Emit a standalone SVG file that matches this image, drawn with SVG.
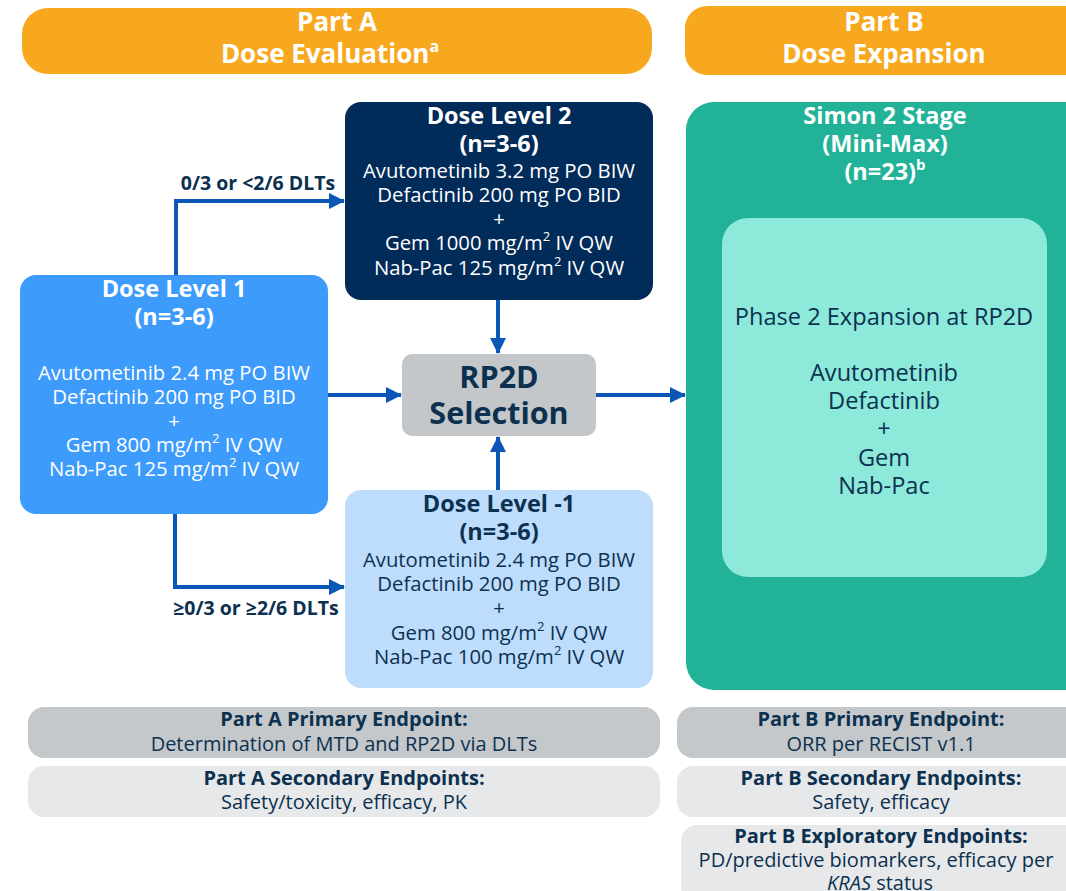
<svg xmlns="http://www.w3.org/2000/svg" width="1066" height="891" viewBox="0 0 1066 891">
<style>
text{font-family:"Open Sans","Noto Sans","Liberation Sans",sans-serif;text-anchor:middle}
.hdr{font-size:26px;font-weight:700;fill:#fff}
.b{font-weight:700}
.w{fill:#fff}
.d{fill:#0c3150}
.t20{font-size:20.3px}
.t22{font-size:23.5px}
.lbl{font-size:19.5px;font-weight:700;fill:#0c3150}
.ep{font-size:20px;fill:#0c3150}
.sup{font-size:13px;baseline-shift:super}
.conn{fill:none;stroke:#0a57b8;stroke-width:4}
</style>
<defs>
<marker id="ah" markerUnits="userSpaceOnUse" markerWidth="16" markerHeight="16" viewBox="0 0 16 16" refX="15" refY="8" orient="auto">
<path d="M0 0 L16 8 L0 16 Z" fill="#0a57b8"/>
</marker>
</defs>

<g id="partA-header">
<rect x="22" y="8" width="630" height="66" rx="26" fill="#f8a81e"/>
<text class="hdr" x="337" y="31">Part A</text>
<text class="hdr" x="330" y="63">Dose Evaluation<tspan font-size="16" baseline-shift="super">a</tspan></text>
</g>

<g id="partB-header">
<rect x="685" y="6" width="420" height="69" rx="22" fill="#f8a81e"/>
<text class="hdr" x="884" y="31">Part B</text>
<text class="hdr" x="884" y="63">Dose Expansion</text>
</g>

<g id="connectors">
<path class="conn" d="M176 276 V201 H344" marker-end="url(#ah)"/>
<path class="conn" d="M498 300 V353" marker-end="url(#ah)"/>
<path class="conn" d="M328 395 H401" marker-end="url(#ah)"/>
<path class="conn" d="M498 490 V437" marker-end="url(#ah)"/>
<path class="conn" d="M596 395 H685" marker-end="url(#ah)"/>
<path class="conn" d="M175 514 V587 H344" marker-end="url(#ah)"/>
<text class="lbl" x="258" y="190">0/3 or &lt;2/6 DLTs</text>
<text class="lbl" x="256" y="615">≥0/3 or ≥2/6 DLTs</text>
</g>

<g id="dose-level-2">
<rect x="345" y="102" width="308" height="198" rx="16" fill="#012b59"/>
<text class="w t22 b" x="499" y="124">Dose Level 2</text>
<text class="w t22 b" x="499" y="152">(n=3-6)</text>
<text class="w t20" x="499" y="178">Avutometinib 3.2 mg PO BIW</text>
<text class="w t20" x="499" y="202">Defactinib 200 mg PO BID</text>
<text class="w t20" x="499" y="226">+</text>
<text class="w t20" x="499" y="250">Gem 1000 mg/m<tspan class="sup">2</tspan> IV QW</text>
<text class="w t20" x="499" y="275">Nab-Pac 125 mg/m<tspan class="sup">2</tspan> IV QW</text>
</g>

<g id="dose-level-1">
<rect x="20" y="275" width="308" height="239" rx="16" fill="#3d9bfc"/>
<text class="w t22 b" x="174" y="297">Dose Level 1</text>
<text class="w t22 b" x="174" y="325">(n=3-6)</text>
<text class="w t20" x="174" y="380">Avutometinib 2.4 mg PO BIW</text>
<text class="w t20" x="174" y="404">Defactinib 200 mg PO BID</text>
<text class="w t20" x="174" y="428">+</text>
<text class="w t20" x="174" y="452">Gem 800 mg/m<tspan class="sup">2</tspan> IV QW</text>
<text class="w t20" x="174" y="476">Nab-Pac 125 mg/m<tspan class="sup">2</tspan> IV QW</text>
</g>

<g id="rp2d-selection">
<rect x="402" y="354" width="194" height="82" rx="10" fill="#c3c7c9"/>
<text class="d b" font-size="30.5" x="499" y="388">RP2D</text>
<text class="d b" font-size="30.5" x="499" y="424">Selection</text>
</g>

<g id="dose-level-minus-1">
<rect x="345" y="490" width="308" height="198" rx="16" fill="#bedcfc"/>
<text class="d t22 b" x="499" y="512">Dose Level -1</text>
<text class="d t22 b" x="499" y="540">(n=3-6)</text>
<text class="d t20" x="499" y="567">Avutometinib 2.4 mg PO BIW</text>
<text class="d t20" x="499" y="591">Defactinib 200 mg PO BID</text>
<text class="d t20" x="499" y="615">+</text>
<text class="d t20" x="499" y="640">Gem 800 mg/m<tspan class="sup">2</tspan> IV QW</text>
<text class="d t20" x="499" y="664">Nab-Pac 100 mg/m<tspan class="sup">2</tspan> IV QW</text>
</g>

<g id="simon-2-stage">
<rect x="686" y="102" width="420" height="588" rx="28" fill="#21b298"/>
<text class="w t22 b" x="885" y="124">Simon 2 Stage</text>
<text class="w t22 b" x="885" y="152">(Mini-Max)</text>
<text class="w t22 b" x="885" y="180">(n=23)<tspan font-size="15" baseline-shift="super">b</tspan></text>
</g>

<g id="phase2-expansion">
<rect x="722" y="218" width="325" height="359" rx="26" fill="#8de9da"/>
<text class="d" font-size="23.6" x="884" y="325">Phase 2 Expansion at RP2D</text>
<text class="d" font-size="23.6" x="884" y="381">Avutometinib</text>
<text class="d" font-size="23.6" x="884" y="409">Defactinib</text>
<text class="d" font-size="23.6" x="884" y="437">+</text>
<text class="d" font-size="23.6" x="884" y="466">Gem</text>
<text class="d" font-size="23.6" x="884" y="494">Nab-Pac</text>
</g>

<g id="partA-primary">
<rect x="28" y="707" width="632" height="51" rx="16" fill="#c4c8ca"/>
<text class="ep b" x="344" y="726">Part A Primary Endpoint:</text>
<text class="ep" x="344" y="751">Determination of MTD and RP2D via DLTs</text>
</g>
<g id="partA-secondary">
<rect x="28" y="766" width="632" height="51" rx="16" fill="#e7e8e9"/>
<text class="ep b" x="344" y="785">Part A Secondary Endpoints:</text>
<text class="ep" x="344" y="809">Safety/toxicity, efficacy, PK</text>
</g>
<g id="partB-primary">
<rect x="677" y="707" width="420" height="51" rx="16" fill="#c4c8ca"/>
<text class="ep b" x="881" y="726">Part B Primary Endpoint:</text>
<text class="ep" x="881" y="751">ORR per RECIST v1.1</text>
</g>
<g id="partB-secondary">
<rect x="677" y="766" width="420" height="51" rx="16" fill="#e7e8e9"/>
<text class="ep b" x="881" y="785">Part B Secondary Endpoints:</text>
<text class="ep" x="881" y="809">Safety, efficacy</text>
</g>
<g id="partB-exploratory">
<rect x="681" y="825" width="420" height="80" rx="16" fill="#e7e8e9"/>
<text class="ep b" x="881" y="843">Part B Exploratory Endpoints:</text>
<text class="ep" x="876" y="867">PD/predictive biomarkers, efficacy per</text>
<text class="ep" x="880" y="890"><tspan font-style="italic">KRAS</tspan> status</text>
</g>
</svg>
